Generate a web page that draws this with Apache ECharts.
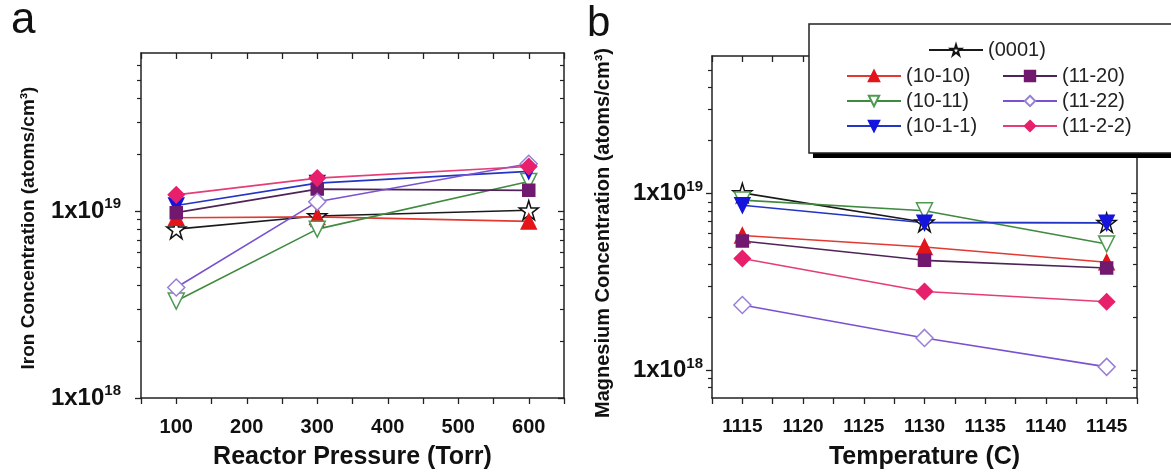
<!DOCTYPE html>
<html>
<head>
<meta charset="utf-8">
<script src="https://cdn.jsdelivr.net/npm/echarts@6/dist/echarts.min.js"></script>
<style>html,body{margin:0;padding:0;background:#fff;}#c{width:1171px;height:472px;}</style>
</head>
<body>
<div id="c"></div>
<script>
// ---------- data ----------
const pressure = [100, 300, 600];          // Torr (panel a)
const temperature = [1115, 1130, 1145];    // C (panel b)
const seriesNames = ['(0001)', '(10-10)', '(10-11)', '(10-1-1)', '(11-20)', '(11-22)', '(11-2-2)'];

// Iron concentration (atoms/cm3) vs reactor pressure
const fe0001 = [0.80e19, 0.94e19, 1.01e19];
const fe1010 = [0.92e19, 0.93e19, 0.88e19];
const fe1011 = [3.3e18, 0.80e19, 1.44e19];
const fe10m1m1 = [1.07e19, 1.41e19, 1.63e19];
const fe1120 = [0.98e19, 1.31e19, 1.29e19];
const fe1122 = [3.9e18, 1.12e19, 1.79e19];
const fe112m2 = [1.22e19, 1.50e19, 1.73e19];

// Magnesium concentration (atoms/cm3) vs temperature
const mg0001 = [1.01e19, 6.9e18, 6.85e18];
const mg1010 = [5.8e18, 5.0e18, 4.1e18];
const mg1011 = [0.92e19, 8.0e18, 5.2e18];
const mg10m1m1 = [0.86e19, 6.85e18, 6.85e18];
const mg1120 = [5.4e18, 4.2e18, 3.8e18];
const mg1122 = [2.35e18, 1.53e18, 1.05e18];
const mg112m2 = [4.3e18, 2.8e18, 2.45e18];

// axis ticks
const majorTicks = [1e18, 1e19];
const ironMinorTicks = [2e18, 3e18, 4e18, 5e18, 6e18, 7e18, 8e18, 9e18, 2e19, 3e19, 4e19, 5e19, 6e19];
const mgMinorTicks = [8e17, 9e17, 2e18, 3e18, 4e18, 5e18, 6e18, 7e18, 8e18, 9e18, 2e19, 3e19, 4e19, 5e19];

// ---------- styles ----------
const FONT = '"Liberation Sans", Arial, Helvetica, sans-serif';
const STAR = 'path://M50,0 L61,35 L98,35 L68,57 L79,91 L50,70 L21,91 L32,57 L2,35 L39,35 Z';
const styles = {
  '(0001)':  {line: '#1a1a1a', fill: '#ffffff', border: '#111111', symbol: STAR, rot: 0, size: 19},
  '(10-10)': {line: '#e23a33', fill: '#e3141a', border: '#e3141a', symbol: 'triangle', rot: 0, size: 15},
  '(10-11)': {line: '#3f8a3f', fill: '#ffffff', border: '#4f9a52', symbol: 'triangle', rot: 180, size: 16},
  '(10-1-1)':{line: '#2434c4', fill: '#1414dc', border: '#1414dc', symbol: 'triangle', rot: 180, size: 15},
  '(11-20)': {line: '#4e2458', fill: '#71196f', border: '#71196f', symbol: 'rect', rot: 0, size: 12},
  '(11-22)': {line: '#7a52cf', fill: '#ffffff', border: '#9a7fd6', symbol: 'diamond', rot: 0, size: 17},
  '(11-2-2)':{line: '#e43d78', fill: '#e8206c', border: '#e8206c', symbol: 'diamond', rot: 0, size: 16}
};

const ironData = [fe0001, fe1010, fe1011, fe10m1m1, fe1120, fe1122, fe112m2];
const mgData = [mg0001, mg1010, mg1011, mg10m1m1, mg1120, mg1122, mg112m2];

function makeSeries(name, xs, ys, xi, yi) {
  const s = styles[name];
  return {
    name: name, type: 'line', xAxisIndex: xi, yAxisIndex: yi,
    data: xs.map((x, i) => [x, ys[i]]),
    symbol: s.symbol, symbolRotate: s.rot, symbolSize: s.size,
    lineStyle: {color: s.line, width: 1.6},
    itemStyle: {color: s.fill, borderColor: s.border, borderWidth: 1.5},
    emphasis: {disabled: true}, animation: false
  };
}

const AX = '#222';
function expLabel(v) {
  const e = Math.round(Math.log10(v));
  return '{b|1x10}{s|' + e + '}';
}
function yAxes(grid, min, max, minor, labelMargin) {
  const base = {type: 'log', logBase: 10, gridIndex: grid, min: min, max: max, splitLine: {show: false}};
  return [
    Object.assign({}, base, {
      position: 'left',
      axisLine: {show: true, onZero: false, lineStyle: {color: AX, width: 1.5}},
      axisTick: {show: true, inside: false, length: 6, customValues: majorTicks, lineStyle: {color: AX, width: 1.3}},
      axisLabel: {
        show: true, customValues: majorTicks, margin: labelMargin, formatter: expLabel,
        rich: {
          b: {fontSize: 24, fontWeight: 'bold', color: '#111', fontFamily: FONT},
          s: {fontSize: 15, fontWeight: 'bold', color: '#111', fontFamily: FONT, padding: [0, 0, 14, 0]}
        }
      }
    }),
    Object.assign({}, base, {
      position: 'left', axisLine: {show: false},
      axisTick: {show: true, inside: false, length: 4, customValues: minor, lineStyle: {color: AX, width: 1.2}},
      axisLabel: {show: false}
    }),
    Object.assign({}, base, {
      position: 'right',
      axisLine: {show: true, onZero: false, lineStyle: {color: AX, width: 1.5}},
      axisTick: {show: true, inside: true, length: 6, customValues: majorTicks, lineStyle: {color: AX, width: 1.3}},
      axisLabel: {show: false}
    }),
    Object.assign({}, base, {
      position: 'right', axisLine: {show: false},
      axisTick: {show: true, inside: true, length: 4, customValues: minor, lineStyle: {color: AX, width: 1.2}},
      axisLabel: {show: false}
    })
  ];
}
function xAxes(grid, min, max, interval, labelStep, name, fs) {
  const base = {type: 'value', gridIndex: grid, min: min, max: max, interval: interval, splitLine: {show: false}};
  return [
    Object.assign({}, base, {
      position: 'bottom',
      axisLine: {show: true, onZero: false, lineStyle: {color: AX, width: 1.5}},
      axisTick: {show: true, inside: false, length: 6, lineStyle: {color: AX, width: 1.3}},
      axisLabel: {
        show: true, margin: 19, fontSize: fs, fontWeight: 'bold', color: '#111', fontFamily: FONT,
        formatter: v => (Math.abs(v / labelStep - Math.round(v / labelStep)) < 1e-6 ? String(v) : '')
      },
      name: name, nameLocation: 'middle', nameGap: 47,
      nameTextStyle: {fontSize: 25, fontWeight: 'bold', color: '#111', fontFamily: FONT}
    }),
    Object.assign({}, base, {
      position: 'top',
      axisLine: {show: true, onZero: false, lineStyle: {color: AX, width: 1.5}},
      axisTick: {show: true, inside: true, length: 6, lineStyle: {color: AX, width: 1.3}},
      axisLabel: {show: false}
    })
  ];
}

const series = [];
seriesNames.forEach((n, i) => series.push(makeSeries(n, pressure, ironData[i], 0, 0)));
seriesNames.forEach((n, i) => series.push(makeSeries(n, temperature, mgData[i], 2, 4)));

const legendCommon = {
  itemWidth: 54, itemHeight: 13, padding: 0, selectedMode: false, z: 100,
  textStyle: {fontSize: 20, color: '#222', fontFamily: FONT, padding: [0, 0, 0, 0]}
};

const option = {
  animation: false,
  backgroundColor: '#ffffff',
  grid: [
    {left: 141, top: 53, width: 423, height: 345, outerBoundsMode: 'none', containLabel: false},
    {left: 712, top: 56, width: 425, height: 342, outerBoundsMode: 'none', containLabel: false}
  ],
  xAxis: [].concat(
    xAxes(0, 50, 650, 50, 100, 'Reactor Pressure (Torr)', 20),
    xAxes(1, 1112.5, 1147.5, 2.5, 5, 'Temperature (C)', 19)
  ),
  yAxis: [].concat(
    yAxes(0, 1e18, 7e19, ironMinorTicks, 20),
    yAxes(1, 7e17, 6e19, mgMinorTicks, 9)
  ),
  legend: [
    Object.assign({}, legendCommon, {data: ['(0001)'], left: 928, top: 40}),
    Object.assign({}, legendCommon, {data: ['(10-10)', '(10-11)', '(10-1-1)'], orient: 'vertical', left: 846, top: 66, itemGap: 5}),
    Object.assign({}, legendCommon, {data: ['(11-20)', '(11-22)', '(11-2-2)'], orient: 'vertical', left: 1002, top: 66, itemGap: 5})
  ],
  graphic: {
    elements: [
      {type: 'rect', z: 90, shape: {x: 813, y: 28, width: 380, height: 130}, style: {fill: '#000'}},
      {type: 'rect', z: 91, shape: {x: 809, y: 24, width: 380, height: 129}, style: {fill: '#fff', stroke: '#222', lineWidth: 1.5}},
      {type: 'text', z: 95, x: 11, y: 43, style: {text: 'a', fontSize: 44, fontFamily: FONT, fill: '#111', textVerticalAlign: 'bottom'}},
      {type: 'text', z: 95, x: 587, y: 45, style: {text: 'b', fontSize: 42, fontFamily: FONT, fill: '#111', textVerticalAlign: 'bottom'}},
      {type: 'text', z: 95, x: 29, y: 228, rotation: Math.PI / 2,
        style: {text: 'Iron Concentration (atoms/cm\u00B3)', fontSize: 19, fontWeight: 'bold', fontFamily: FONT, fill: '#111', textAlign: 'center', textVerticalAlign: 'middle'}},
      {type: 'text', z: 95, x: 603, y: 233, rotation: Math.PI / 2,
        style: {text: 'Magnesium Concentration (atoms/cm\u00B3)', fontSize: 20, fontWeight: 'bold', fontFamily: FONT, fill: '#111', textAlign: 'center', textVerticalAlign: 'middle'}}
    ]
  },
  series: series
};

const chart = echarts.init(document.getElementById('c'), null, {renderer: 'canvas'});
chart.setOption(option);
</script>
</body>
</html>
